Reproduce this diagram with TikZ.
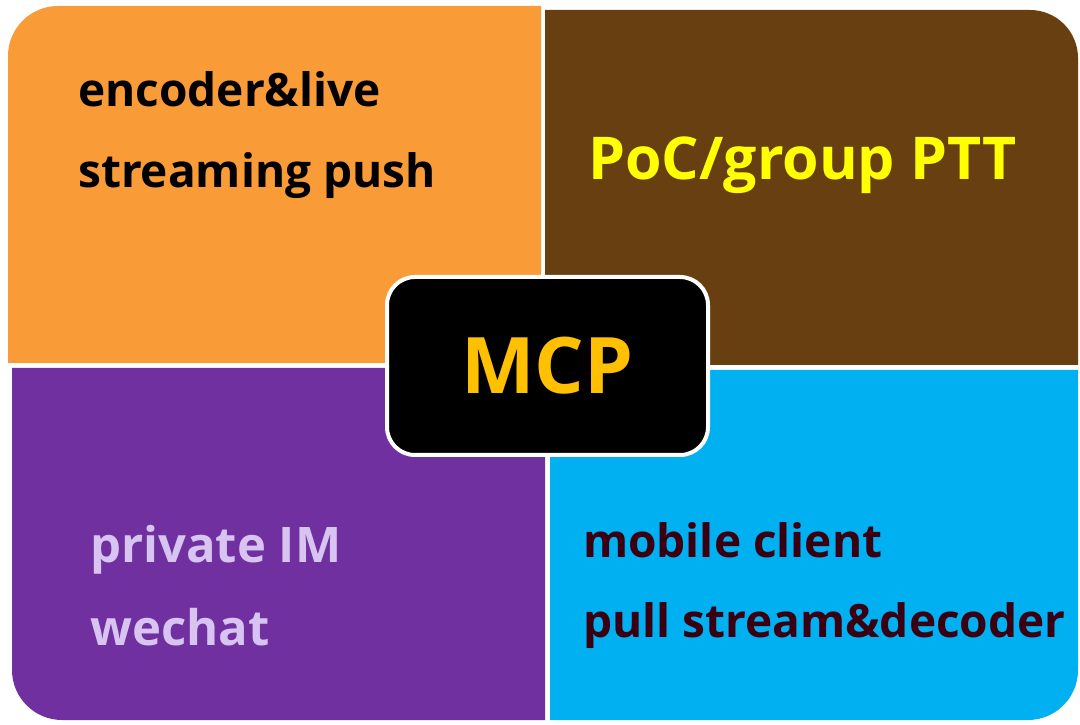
\documentclass[tikz,border=0pt]{standalone}
\usepackage{fontspec}
\setmainfont{Open Sans}
\usepackage{tikz}

\definecolor{encorange}{HTML}{F99B37}
\definecolor{pocbrown}{HTML}{673F10}
\definecolor{impurple}{HTML}{7030A0}
\definecolor{mobblue}{HTML}{00B0F0}
\definecolor{mcpgold}{HTML}{FFC000}
\definecolor{pocyellow}{HTML}{FFFF00}
\definecolor{imlavender}{HTML}{D8C4F0}
\definecolor{mobmaroon}{HTML}{3A0012}

\tikzset{
  quadtext/.style={anchor=base west, inner sep=0pt, font=\bfseries\fontsize{46}{54}\selectfont},
  centerbox/.style={draw=white, line width=4pt, fill=black, rounded corners=28pt,
    minimum width=321pt, minimum height=178pt, inner sep=0pt,
    text=mcpgold, font=\bfseries\fontsize{78}{88}\selectfont}
}

\begin{document}
\begin{tikzpicture}[x=1pt, y=1pt]
    \useasboundingbox (0,0) rectangle (1080,724);
    \fill[white] (0,0) rectangle (1080,724);

    % Top left - encoder
    \fill[encorange] (541,361) -- (8,361) -- (8,668)
        arc[start angle=180, end angle=90, radius=50pt] -- (541,718) -- cycle;
    \node[quadtext, text=black] (enc1) at (78,617) {encoder\&live};
    \node[quadtext, text=black] (enc2) at (78,536) {streaming push};

    % Top right - PoC
    \fill[pocbrown] (545,359) -- (545,714) -- (1030,714)
        arc[start angle=90, end angle=0, radius=48pt] -- (1078,359) -- cycle;
    \node[quadtext, text=pocyellow, font=\bfseries\fontsize{59}{68}\selectfont] (poc) at (588,544) {PoC/group PTT};

    % Bottom left - IM
    \fill[impurple] (545,356) -- (12,356) -- (12,54)
        arc[start angle=180, end angle=270, radius=50pt] -- (545,4) -- cycle;
    \node[quadtext, text=imlavender, font=\bfseries\fontsize{49}{58}\selectfont] (im1) at (90,162) {private IM};
    \node[quadtext, text=imlavender, font=\bfseries\fontsize{49}{58}\selectfont] (im2) at (90,79) {wechat};

    % Bottom right - mobile
    \fill[mobblue] (550,354) -- (550,4) -- (1028,4)
        arc[start angle=270, end angle=360, radius=50pt] -- (1078,354) -- cycle;
    \node[quadtext, text=mobmaroon] (mob1) at (583,167) {mobile client};
    \node[quadtext, text=mobmaroon] (mob2) at (583,87) {pull stream\&decoder};

    % Center
    \node[centerbox] (mcp) at (547.5,358) {MCP};
\end{tikzpicture}
\end{document}
